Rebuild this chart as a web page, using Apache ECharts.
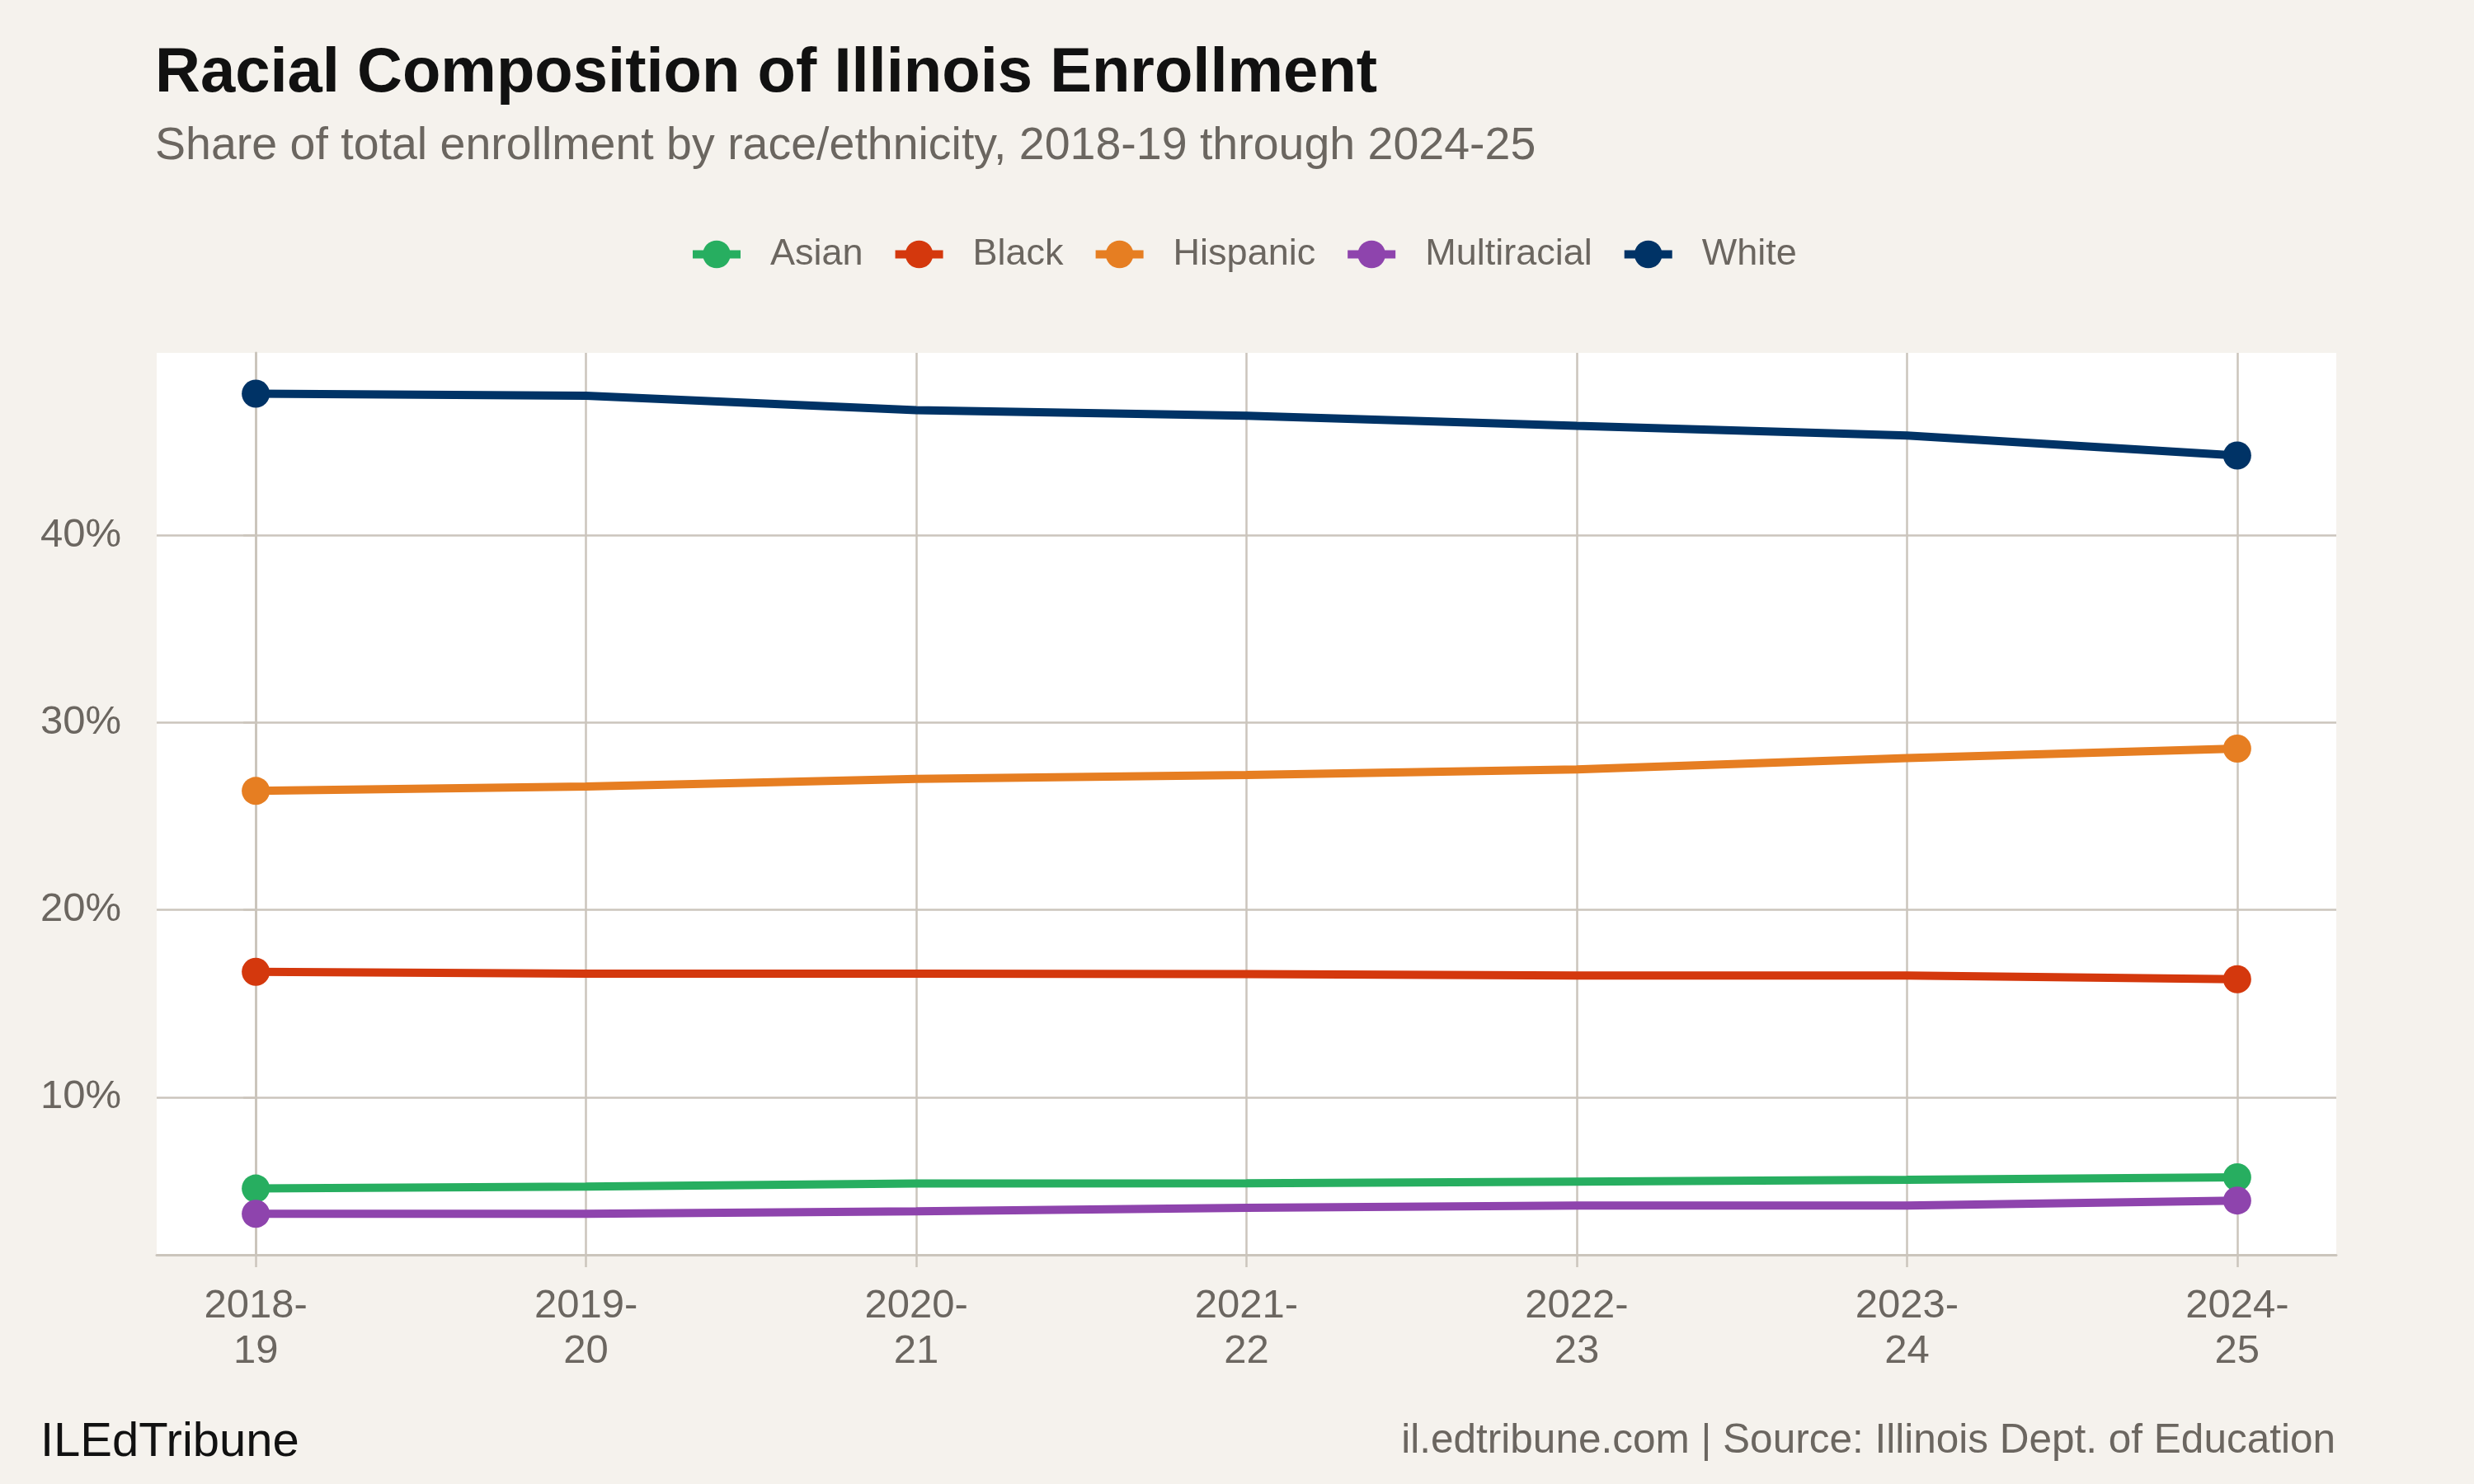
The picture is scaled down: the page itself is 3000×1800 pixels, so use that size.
<!DOCTYPE html>
<html>
<head>
<meta charset="utf-8">
<script src="https://cdn.jsdelivr.net/npm/echarts@6/dist/echarts.min.js"></script>
<style>
html,body{margin:0;padding:0;background:#f5f2ed;}
#chart{width:3000px;height:1800px;}
</style>
</head>
<body>
<div id="chart"></div>
<script>
const categories = ['2018-19','2019-20','2020-21','2021-22','2022-23','2023-24','2024-25'];
const seriesNames = ['Asian','Black','Hispanic','Multiracial','White'];
const asian = [5.12, 5.22, 5.39, 5.40, 5.49, 5.59, 5.72];
const black = [16.70, 16.60, 16.60, 16.58, 16.50, 16.50, 16.30];
const hispanic = [26.36, 26.60, 27.00, 27.21, 27.51, 28.11, 28.62];
const multiracial = [3.77, 3.77, 3.90, 4.09, 4.21, 4.21, 4.48];
const white = [47.58, 47.47, 46.70, 46.40, 45.86, 45.35, 44.28];
const yTicks = [10, 20, 30, 40];

const colors = ['#27ae60', '#d4380d', '#e67e22', '#8e44ad', '#003366'];
const values = [asian, black, hispanic, multiracial, white];
const FONT = "'Liberation Sans', Arial, Helvetica, sans-serif";
const GRID = '#cbc5bc';
const TEXT = '#6b6660';
const xIdx = categories.map((c, i) => i);

const chart = echarts.init(document.getElementById('chart'), null, {renderer: 'canvas'});
const lastIdx = categories.length - 1;

const option = {
  backgroundColor: '#f5f2ed',
  animation: false,
  textStyle: {fontFamily: FONT},
  grid: {
    left: 190, right: 167, top: 428, bottom: 278,
    show: true, backgroundColor: '#ffffff', borderWidth: 0
  },
  legend: {
    left: 830, top: 281,
    itemWidth: 58, itemHeight: 42, itemGap: 34,
    selectedMode: false,
    data: seriesNames,
    lineStyle: {width: 10},
    textStyle: {fontSize: 45, color: TEXT, fontFamily: FONT, padding: [0, 0, 0, 31]}
  },
  xAxis: {
    type: 'value', min: -0.3, max: lastIdx + 0.3,
    axisLine: {show: true, onZero: false, lineStyle: {color: GRID, width: 3}},
    axisTick: {show: true, length: 15, customValues: xIdx, lineStyle: {color: GRID, width: 2.5}},
    splitLine: {show: true, lineStyle: {color: GRID, width: 2.5}},
    axisLabel: {
      customValues: xIdx,
      margin: 35,
      fontSize: 49, lineHeight: 55, color: TEXT, fontFamily: FONT, align: 'center',
      formatter: v => { const c = categories[Math.round(v)]; return c ? c.replace('-', '-\n') : ''; }
    }
  },
  yAxis: {
    type: 'value', min: 1.58, max: 49.76,
    axisLine: {show: true, lineStyle: {color: GRID, width: 3}},
    axisTick: {show: true, length: 15, customValues: yTicks, lineStyle: {color: GRID, width: 2.5}},
    splitLine: {show: true, lineStyle: {color: GRID, width: 2.5}},
    axisLabel: {
      customValues: yTicks,
      margin: 43, fontSize: 49, color: TEXT, fontFamily: FONT,
      padding: [8, 0, 0, 0],
      formatter: v => v + '%'
    }
  },
  series: seriesNames.map((name, k) => ({
    name: name,
    type: 'line',
    data: values[k].map((v, i) => [i, v]),
    symbol: 'circle',
    showSymbol: true,
    showAllSymbol: true,
    symbolSize: (val, p) => (p.dataIndex === 0 || p.dataIndex === lastIdx) ? 34 : 0,
    lineStyle: {color: colors[k], width: 10},
    itemStyle: {color: colors[k]},
    emphasis: {disabled: true},
    z: 2 + k
  })),
  graphic: [
    {type: 'text', x: 188, y: 90, silent: true,
     style: {text: 'Racial Composition of Illinois Enrollment', fontSize: 76, fontWeight: 'bold',
             fontFamily: FONT, fill: '#111111', align: 'left', verticalAlign: 'middle'}},
    {type: 'text', x: 188, y: 178, silent: true,
     style: {text: 'Share of total enrollment by race/ethnicity, 2018-19 through 2024-25', fontSize: 55.5,
             fontFamily: FONT, fill: TEXT, align: 'left', verticalAlign: 'middle'}},
    {type: 'text', x: 49, y: 1750, silent: true,
     style: {text: 'ILEdTribune', fontSize: 58, fontFamily: FONT, fill: '#111111',
             align: 'left', verticalAlign: 'middle'}},
    {type: 'text', x: 2832, y: 1748, silent: true,
     style: {text: 'il.edtribune.com | Source: Illinois Dept. of Education', fontSize: 49.5,
             fontFamily: FONT, fill: TEXT, align: 'right', verticalAlign: 'middle'}}
  ]
};
chart.setOption(option);
</script>
</body>
</html>
